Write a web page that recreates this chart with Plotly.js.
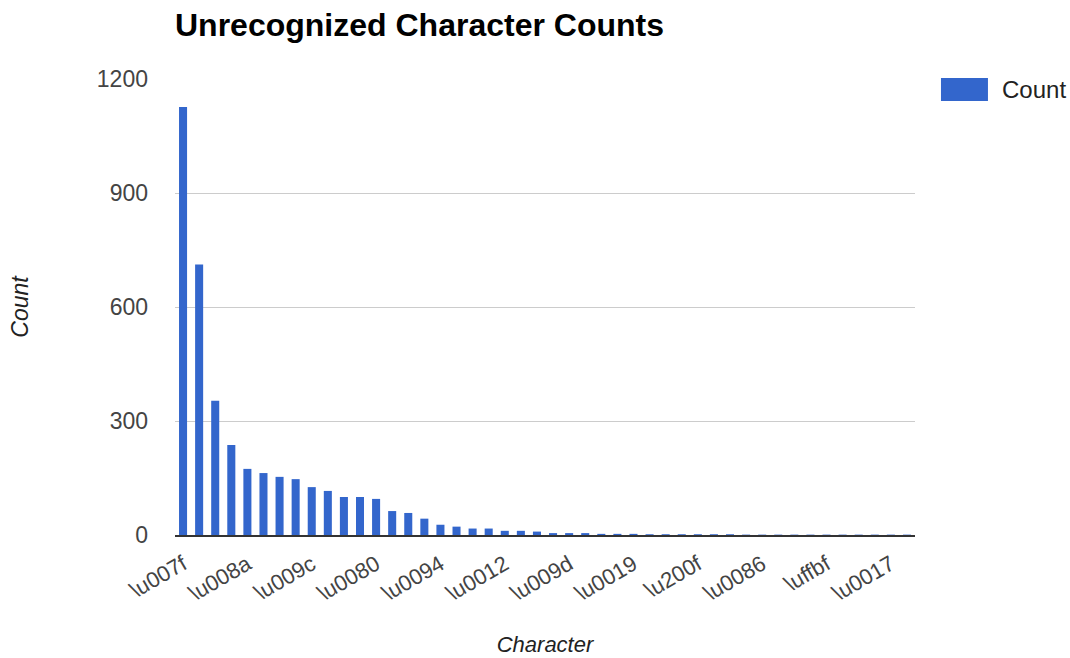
<!DOCTYPE html>
<html>
<head>
<meta charset="utf-8">
<script src="https://cdn.plot.ly/plotly-3.0.1.min.js"></script>
<style>
  html, body { margin: 0; padding: 0; background: #ffffff; }
  #chart { width: 1070px; height: 658px; }
</style>
</head>
<body>
<div id="chart"></div>
<script>
// Unrecognized characters, sorted by how often they occur
const characters = [
  "\\u007f", "\\u0092", "\\u0093", "\\u0089",
  "\\u008a", "\\u0085", "\\u0099", "\\u0096",
  "\\u009c", "\\u009a", "\\u0095", "\\u0091",
  "\\u0080", "\\u0082", "\\u0083", "\\u008e",
  "\\u0094", "\\u0090", "\\u0084", "\\u0097",
  "\\u0012", "\\u008c", "\\u009e", "\\u0088",
  "\\u009d", "\\u0087", "\\u008d", "\\u0010",
  "\\u0019", "\\u0098", "\\u0014", "\\u008b",
  "\\u200f", "\\u0081", "\\u200e", "\\u009b",
  "\\u0086", "\\u008f", "\\u0016", "\\u0011",
  "\\uffbf", "\\u0015", "\\u0013", "\\u001e",
  "\\u0017", "\\u001c"
];

const counts = [
  1126, 712, 353, 237,
  174, 163, 153, 147,
  126, 116, 100, 100,
  95, 63, 58, 43,
  27, 22, 17, 17,
  11, 11, 9, 5,
  5, 5, 3, 3,
  3, 2, 2, 2,
  2, 2, 2, 1,
  1, 1, 1, 1,
  1, 1, 1, 1,
  1, 1
];

// Only every fourth character gets a tick label
const labelledCharacters = characters.filter((c, i) => i % 4 === 0);

const yTicks = [0, 300, 600, 900, 1200];

const seriesName = "Count";
const seriesColor = "#3366cc";

const FONT = "Liberation Sans, Arial, sans-serif";

const trace = {
  type: "bar",
  name: seriesName,
  x: characters,
  y: counts,
  marker: { color: seriesColor },
  hoverinfo: "x+y",
  showlegend: false
};

const layout = {
  width: 1070,
  height: 658,
  margin: { l: 175, r: 155, t: 79, b: 123 },
  paper_bgcolor: "#ffffff",
  plot_bgcolor: "#ffffff",
  font: { family: FONT, color: "#444444", size: 22 },
  bargap: 0.5,
  title: {
    text: "<b>Unrecognized Character Counts</b>",
    font: { family: FONT, size: 32, color: "#000000" },
    x: 0, xref: "paper", xanchor: "left",
    y: 0.962, yref: "container", yanchor: "middle"
  },
  xaxis: {
    type: "category",
    tickmode: "array",
    tickvals: labelledCharacters,
    ticktext: labelledCharacters,
    tickangle: -30,
    tickfont: { family: FONT, size: 22, color: "#444444" },
    ticklabelstandoff: 6,
    showgrid: false,
    showline: true,
    linecolor: "#333333",
    linewidth: 2,
    ticks: "",
    automargin: false,
    title: {
      text: "<i>Character</i>",
      font: { family: FONT, size: 22, color: "#222222" },
      standoff: 32
    }
  },
  yaxis: {
    range: [0, 1200],
    tickmode: "array",
    tickvals: yTicks,
    ticktext: yTicks.map(String),
    tickfont: { family: FONT, size: 23, color: "#444444" },
    showgrid: true,
    gridcolor: "#cccccc",
    gridwidth: 1,
    zeroline: false,
    showline: false,
    ticks: "",
    ticklabelstandoff: 26,
    automargin: false,
    title: {
      text: "<i>Count</i>",
      font: { family: FONT, size: 23, color: "#222222" },
      standoff: 61
    }
  },
  // Legend: wide colour key with the series name beside it
  shapes: [{
    type: "rect",
    xref: "paper", yref: "paper",
    x0: 1.0351, x1: 1.0986, y0: 0.9518, y1: 1.0022,
    fillcolor: seriesColor,
    line: { width: 0 }
  }],
  annotations: [{
    xref: "paper", yref: "paper",
    x: 1.1149, y: 0.977,
    xanchor: "left", yanchor: "middle",
    text: seriesName,
    showarrow: false,
    font: { family: FONT, size: 24, color: "#222222" }
  }]
};

Plotly.newPlot("chart", [trace], layout, { displayModeBar: false, staticPlot: true });
</script>
</body>
</html>
